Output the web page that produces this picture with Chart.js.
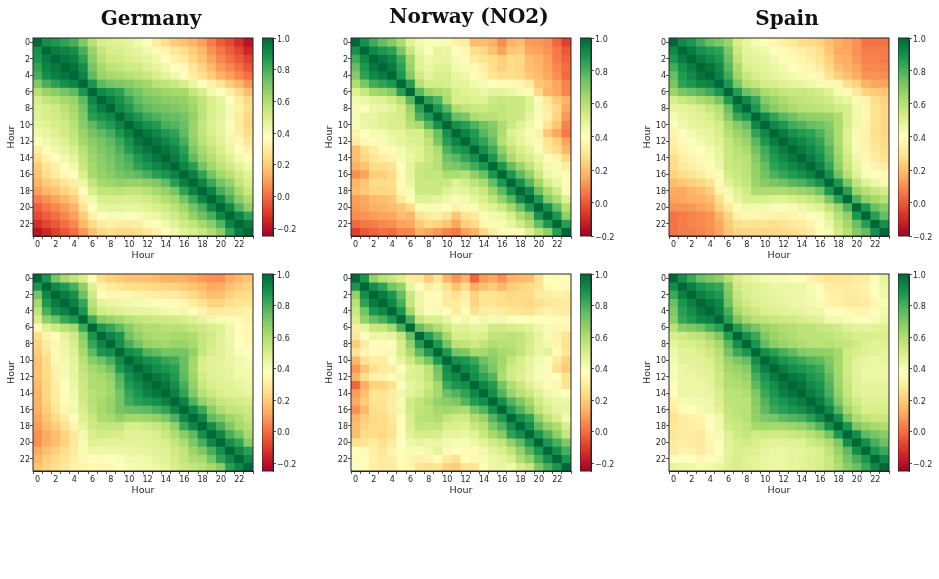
<!DOCTYPE html>
<html>
<head>
<meta charset="utf-8">
<title>Hourly correlation</title>
<script src="https://cdn.jsdelivr.net/npm/chart.js@4"></script>
<style>
	body { margin: 0; background: #fff; width: 939px; height: 579px; overflow: hidden; position: relative; }
	canvas { position: absolute; }
</style>
</head>
<body>
<script>
const hours = ['0','1','2','3','4','5','6','7','8','9','10','11','12','13','14','15','16','17','18','19','20','21','22','23'];
const hourTicks = [0,2,4,6,8,10,12,14,16,18,20,22];
const colorbarTicks = [-0.2,0,0.2,0.4,0.6,0.8,1];
const rdYlGn = ['#a50026','#d73027','#f46d43','#fdae61','#fee08b','#ffffbf','#d9ef8b','#a6d96a','#66bd63','#1a9850','#006837'];

// matrices are symmetric, each row starts on the diagonal
const germanyTop = [
	[1,.9,.88,.84,.8,.7,.58,.5,.48,.47,.45,.42,.38,.3,.25,.2,.18,.14,.1,.03,-.03,-.07,-.13,-.2],
	[1,.95,.93,.9,.8,.65,.55,.5,.5,.47,.45,.42,.36,.33,.28,.25,.2,.15,.07,.02,-.03,-.08,-.15],
	[1,.96,.94,.85,.68,.58,.53,.52,.5,.48,.45,.42,.37,.32,.3,.23,.18,.11,.05,0,-.04,-.09],
	[1,.97,.9,.72,.62,.57,.55,.53,.52,.48,.45,.42,.37,.35,.28,.22,.15,.09,.05,0,-.05],
	[1,.93,.76,.65,.62,.6,.58,.56,.54,.5,.46,.42,.38,.31,.26,.2,.14,.1,.05,0],
	[1,.88,.76,.72,.7,.68,.65,.63,.58,.56,.54,.5,.44,.37,.32,.27,.2,.15,.08],
	[1,.92,.88,.85,.76,.72,.68,.66,.64,.63,.62,.55,.5,.42,.38,.32,.24,.17],
	[1,.95,.89,.83,.76,.72,.7,.68,.67,.66,.62,.56,.5,.45,.38,.3,.23],
	[1,.92,.87,.8,.76,.73,.72,.7,.68,.64,.56,.5,.46,.4,.32,.25],
	[1,.93,.88,.82,.79,.76,.75,.72,.66,.57,.5,.46,.4,.3,.23],
	[1,.94,.89,.86,.8,.78,.74,.65,.55,.49,.45,.38,.3,.23],
	[1,.96,.92,.87,.84,.76,.65,.56,.5,.45,.4,.31,.25],
	[1,.96,.92,.88,.8,.67,.58,.52,.47,.42,.35,.28],
	[1,.96,.92,.85,.7,.62,.55,.5,.44,.38,.32],
	[1,.95,.88,.76,.65,.59,.53,.48,.42,.36],
	[1,.93,.85,.72,.63,.57,.52,.47,.42],
	[1,.94,.84,.72,.63,.58,.52,.47],
	[1,.93,.82,.72,.66,.56,.5],
	[1,.93,.8,.73,.62,.54],
	[1,.92,.8,.68,.6],
	[1,.92,.78,.67],
	[1,.93,.84],
	[1,.95],
	[1]
];
const norwayTop = [
	[1,.9,.82,.76,.7,.62,.5,.44,.42,.42,.42,.35,.33,.2,.2,.17,.1,.18,.2,.13,.12,.1,.03,-.05],
	[1,.92,.88,.85,.72,.56,.46,.41,.47,.46,.4,.37,.28,.26,.21,.14,.22,.23,.15,.14,.11,.06,0],
	[1,.96,.92,.82,.64,.49,.45,.47,.47,.43,.39,.33,.3,.28,.24,.27,.26,.19,.17,.13,.07,.02],
	[1,.95,.85,.66,.5,.46,.5,.5,.44,.42,.38,.34,.28,.24,.27,.26,.2,.18,.14,.09,.04],
	[1,.88,.7,.54,.48,.52,.52,.47,.45,.38,.36,.3,.27,.28,.27,.22,.2,.15,.1,.03],
	[1,.86,.6,.53,.53,.52,.48,.48,.44,.43,.4,.38,.38,.37,.32,.22,.2,.14,.08],
	[1,.78,.66,.63,.6,.52,.5,.48,.46,.48,.48,.46,.43,.38,.27,.18,.15,.08],
	[1,.86,.8,.63,.52,.52,.5,.5,.55,.56,.55,.55,.5,.42,.3,.23,.17],
	[1,.88,.78,.62,.58,.56,.55,.57,.58,.56,.55,.5,.43,.33,.27,.15],
	[1,.9,.75,.72,.62,.6,.6,.57,.56,.55,.48,.42,.34,.25,.12],
	[1,.9,.86,.8,.74,.7,.62,.55,.5,.45,.4,.3,.22,.08],
	[1,.93,.87,.78,.72,.62,.5,.47,.42,.35,.22,.15,.06],
	[1,.9,.84,.76,.6,.53,.48,.44,.38,.3,.24,.14],
	[1,.9,.82,.68,.58,.52,.48,.42,.32,.27,.18],
	[1,.88,.75,.63,.56,.52,.47,.38,.36,.26],
	[1,.88,.76,.66,.58,.5,.44,.42,.33],
	[1,.88,.77,.67,.55,.45,.43,.38],
	[1,.9,.78,.64,.52,.47,.38],
	[1,.92,.75,.62,.54,.42],
	[1,.88,.7,.62,.5],
	[1,.9,.76,.6],
	[1,.88,.68],
	[1,.86],
	[1]
];
const spainTop = [
	[1,.92,.88,.82,.76,.72,.66,.52,.47,.43,.41,.36,.34,.32,.28,.27,.25,.2,.16,.14,.11,.05,.05,.05],
	[1,.95,.9,.87,.85,.72,.55,.48,.46,.45,.41,.38,.36,.34,.32,.28,.22,.15,.15,.11,.07,.07,.07],
	[1,.95,.92,.88,.75,.58,.5,.48,.47,.44,.41,.38,.36,.34,.3,.24,.18,.16,.12,.08,.08,.07],
	[1,.97,.92,.78,.62,.52,.5,.48,.46,.44,.4,.38,.36,.33,.26,.2,.17,.14,.09,.09,.08],
	[1,.94,.82,.65,.56,.52,.5,.48,.46,.44,.42,.39,.37,.3,.24,.2,.16,.11,.11,.1],
	[1,.88,.72,.6,.57,.53,.52,.5,.48,.47,.45,.42,.38,.36,.28,.25,.17,.15,.14],
	[1,.87,.75,.7,.63,.6,.57,.56,.56,.55,.53,.5,.43,.38,.32,.25,.23,.22],
	[1,.92,.83,.7,.66,.62,.59,.58,.57,.56,.54,.5,.47,.42,.35,.28,.25],
	[1,.88,.76,.7,.66,.63,.6,.59,.58,.57,.54,.52,.44,.37,.3,.26],
	[1,.92,.84,.78,.74,.7,.68,.67,.66,.62,.52,.44,.37,.29,.26],
	[1,.92,.88,.82,.8,.76,.74,.7,.62,.52,.44,.36,.3,.26],
	[1,.95,.9,.87,.85,.8,.72,.62,.5,.42,.35,.28,.26],
	[1,.95,.92,.88,.84,.74,.62,.5,.42,.35,.3,.27],
	[1,.96,.92,.87,.78,.64,.52,.42,.36,.32,.28],
	[1,.95,.9,.8,.66,.54,.45,.37,.33,.3],
	[1,.94,.84,.68,.56,.47,.39,.36,.33],
	[1,.9,.74,.6,.5,.42,.4,.38],
	[1,.88,.72,.58,.5,.46,.43],
	[1,.86,.66,.6,.56,.53],
	[1,.8,.68,.64,.6],
	[1,.88,.75,.7],
	[1,.86,.76],
	[1,.9],
	[1]
];
const germanyBottom = [
	[1,.88,.72,.62,.56,.5,.36,.25,.22,.2,.18,.18,.18,.16,.14,.14,.13,.11,.09,.07,.07,.12,.15,.18],
	[1,.92,.87,.8,.67,.48,.33,.3,.28,.25,.25,.24,.23,.23,.22,.2,.18,.16,.12,.13,.17,.2,.22],
	[1,.95,.9,.73,.53,.37,.34,.35,.35,.32,.32,.31,.3,.3,.27,.24,.2,.17,.17,.21,.24,.25],
	[1,.94,.83,.58,.46,.44,.43,.42,.41,.4,.38,.36,.36,.34,.3,.27,.22,.22,.25,.27,.28],
	[1,.88,.62,.52,.5,.48,.46,.45,.45,.44,.42,.41,.42,.38,.33,.29,.29,.3,.31,.33],
	[1,.82,.68,.65,.62,.58,.56,.54,.53,.53,.52,.5,.48,.45,.42,.4,.4,.35,.33],
	[1,.88,.83,.76,.68,.63,.6,.6,.58,.58,.57,.54,.53,.5,.48,.43,.37,.35],
	[1,.93,.88,.73,.66,.62,.61,.6,.62,.62,.6,.55,.52,.47,.43,.36,.34],
	[1,.9,.8,.72,.66,.64,.63,.65,.65,.62,.55,.51,.46,.43,.37,.35],
	[1,.91,.87,.78,.76,.72,.72,.72,.66,.55,.5,.47,.44,.39,.38],
	[1,.94,.9,.87,.83,.81,.74,.63,.5,.47,.46,.44,.42,.4],
	[1,.95,.91,.88,.85,.75,.62,.5,.47,.46,.45,.42,.41],
	[1,.96,.93,.87,.76,.64,.52,.48,.47,.45,.43,.42],
	[1,.96,.9,.8,.66,.54,.5,.48,.47,.45,.43],
	[1,.94,.84,.7,.58,.54,.5,.48,.47,.45],
	[1,.93,.79,.66,.6,.55,.53,.51,.5],
	[1,.92,.82,.68,.6,.56,.55,.53],
	[1,.92,.76,.7,.64,.6,.55],
	[1,.9,.8,.7,.62,.58],
	[1,.92,.8,.72,.62],
	[1,.9,.84,.68],
	[1,.92,.85],
	[1,.92],
	[1]
];
const norwayBottom = [
	[1,.88,.66,.58,.54,.5,.3,.28,.2,.28,.15,.08,.14,-.02,.09,.12,.07,.14,.16,.17,.26,.37,.39,.38],
	[1,.9,.84,.72,.66,.45,.38,.3,.34,.26,.18,.25,.13,.17,.2,.15,.2,.22,.24,.27,.35,.37,.36],
	[1,.95,.88,.75,.54,.44,.37,.36,.3,.26,.32,.22,.27,.27,.25,.23,.24,.24,.3,.31,.32,.31],
	[1,.92,.8,.55,.43,.36,.35,.3,.3,.33,.22,.27,.27,.26,.24,.24,.23,.25,.28,.3,.29],
	[1,.88,.62,.45,.38,.4,.37,.3,.36,.26,.3,.31,.3,.28,.27,.26,.3,.33,.31,.3],
	[1,.8,.55,.5,.5,.45,.38,.42,.38,.42,.4,.42,.39,.37,.37,.37,.38,.36,.36],
	[1,.75,.66,.6,.53,.47,.48,.45,.46,.52,.52,.5,.49,.47,.43,.4,.34,.34],
	[1,.86,.76,.62,.5,.5,.48,.5,.56,.56,.57,.56,.51,.45,.4,.32,.27],
	[1,.87,.72,.57,.56,.53,.56,.6,.58,.58,.55,.51,.44,.42,.33,.26],
	[1,.87,.72,.7,.62,.62,.66,.62,.6,.56,.5,.44,.46,.36,.28],
	[1,.9,.88,.82,.74,.68,.63,.55,.5,.45,.42,.36,.29,.22],
	[1,.92,.88,.78,.7,.62,.52,.5,.45,.4,.38,.26,.2],
	[1,.9,.84,.78,.6,.52,.48,.44,.4,.36,.37,.27],
	[1,.92,.86,.72,.6,.54,.47,.43,.36,.34,.27],
	[1,.9,.78,.65,.58,.54,.47,.42,.4,.37],
	[1,.9,.78,.7,.62,.52,.47,.44,.44],
	[1,.87,.78,.68,.56,.5,.46,.45],
	[1,.9,.84,.66,.56,.5,.42],
	[1,.9,.76,.66,.6,.5],
	[1,.88,.78,.67,.55],
	[1,.88,.8,.7],
	[1,.9,.8],
	[1,.88],
	[1]
];
const spainBottom = [
	[1,.9,.82,.74,.7,.67,.58,.5,.46,.43,.41,.4,.4,.38,.37,.33,.3,.27,.28,.28,.3,.3,.37,.46],
	[1,.94,.88,.85,.83,.68,.52,.49,.47,.46,.44,.44,.44,.44,.41,.36,.3,.3,.3,.31,.33,.38,.44],
	[1,.94,.9,.87,.7,.55,.5,.47,.46,.45,.44,.44,.43,.41,.38,.32,.31,.3,.3,.32,.37,.43],
	[1,.96,.92,.73,.57,.52,.49,.47,.46,.45,.44,.43,.42,.4,.33,.32,.29,.29,.3,.34,.4],
	[1,.94,.8,.62,.56,.53,.49,.48,.47,.46,.45,.43,.43,.37,.37,.35,.34,.33,.38,.42],
	[1,.85,.7,.62,.58,.56,.54,.53,.52,.5,.49,.47,.42,.42,.4,.38,.37,.4,.44],
	[1,.86,.77,.72,.65,.63,.6,.59,.57,.57,.55,.54,.52,.48,.47,.46,.47,.48],
	[1,.9,.82,.7,.65,.62,.6,.58,.57,.57,.56,.54,.53,.5,.5,.5,.5],
	[1,.88,.75,.68,.65,.62,.6,.58,.58,.58,.56,.55,.52,.49,.47,.48],
	[1,.9,.85,.8,.76,.7,.68,.67,.66,.62,.52,.5,.48,.46,.46],
	[1,.94,.88,.85,.82,.78,.76,.7,.63,.53,.47,.45,.44,.45],
	[1,.95,.9,.88,.85,.82,.72,.62,.52,.46,.44,.44,.44],
	[1,.96,.94,.88,.85,.76,.63,.53,.47,.44,.44,.44],
	[1,.97,.92,.88,.78,.64,.54,.47,.45,.45,.45],
	[1,.95,.9,.8,.66,.55,.48,.46,.46,.46],
	[1,.95,.85,.7,.58,.52,.48,.48,.48],
	[1,.92,.78,.63,.55,.5,.5,.5],
	[1,.9,.72,.6,.56,.54,.54],
	[1,.88,.7,.65,.62,.6],
	[1,.9,.76,.72,.68],
	[1,.9,.8,.74],
	[1,.88,.82],
	[1,.92],
	[1]
];

const fontFamily = '"DejaVu Sans"';
const inkColor = '#262626';

function hexToRgb(hex) {
	return [1, 3, 5].map((i) => parseInt(hex.slice(i, i + 2), 16));
}

function cmap(t) {
	const pos = Math.min(Math.max(t, 0), 1) * (rdYlGn.length - 1);
	const i = Math.min(Math.floor(pos), rdYlGn.length - 2);
	const a = hexToRgb(rdYlGn[i]);
	const b = hexToRgb(rdYlGn[i + 1]);
	const c = a.map((v, k) => Math.round(v + (b[k] - v) * (pos - i)));
	return `rgb(${c[0]},${c[1]},${c[2]})`;
}

function cell(rows, r, c) {
	return r <= c ? rows[r][c - r] : rows[c][r - c];
}

function tickFormat(value) {
	return value.toFixed(1).replace('-', '\u2212');
}

// closes the axes box, chart.js only strokes the sides that own a scale
const spines = {
	id: 'spines',
	afterDraw(chart) {
		const { ctx, chartArea: a } = chart;
		ctx.save();
		ctx.strokeStyle = inkColor;
		ctx.lineWidth = 1;
		ctx.strokeRect(a.left, a.top, a.right - a.left, a.bottom - a.top);
		ctx.restore();
	}
};

function addCanvas(left, top, width, height) {
	const el = document.createElement('canvas');
	el.width = width;
	el.height = height;
	el.style.left = left + 'px';
	el.style.top = top + 'px';
	document.body.appendChild(el);
	return el;
}

function axisStyle() {
	return {
		grid: { drawOnChartArea: false, drawTicks: true, tickLength: 3, color: inkColor, tickWidth: 0.8 },
		border: { display: true, color: inkColor }
	};
}

function drawHeatmap(p) {
	const hasTitle = Boolean(p.title);
	const el = addCanvas(p.plotLeft - 33, p.top, 302, p.height);
	const datasets = hours.map((h, r) => ({
		data: hours.map(() => [r - 0.5, r + 0.5]),
		backgroundColor: hours.map((_, c) => cmap((cell(p.rows, r, c) - p.vmin) / (1 - p.vmin)))
	}));

	new Chart(el, {
		type: 'bar',
		data: { labels: hours, datasets },
		options: {
			responsive: false,
			animation: false,
			events: [],
			grouped: false,
			barPercentage: 1,
			categoryPercentage: 1,
			layout: { padding: { top: hasTitle ? 0 : p.padTop, right: 0, left: 0, bottom: 0 } },
			plugins: {
				legend: { display: false },
				tooltip: { enabled: false },
				title: {
					display: hasTitle,
					text: p.title,
					color: '#111',
					font: { family: '"DejaVu Serif"', size: 20, weight: 'bold', lineHeight: 1.2 },
					padding: { top: p.titleTop, bottom: 38 - 24 - p.titleTop }
				}
			},
			scales: {
				x: {
					...axisStyle(),
					offset: true,
					title: { display: true, text: 'Hour', color: inkColor, font: { family: fontFamily, size: 9.5 }, padding: { top: 0, bottom: 3 } },
					ticks: {
						autoSkip: false,
						maxRotation: 0,
						padding: 1,
						color: inkColor,
						font: { family: fontFamily, size: 8 },
						callback: (v, i) => (hourTicks.includes(i) ? hours[i] : '')
					},
					afterFit: (s) => { s.height = 28; }
				},
				y: {
					...axisStyle(),
					min: -0.5,
					max: 23.5,
					reverse: true,
					title: { display: true, text: 'Hour', color: inkColor, font: { family: fontFamily, size: 9.5 }, padding: { top: 6, bottom: 0 } },
					ticks: { padding: 0, labelOffset: 1, color: inkColor, font: { family: fontFamily, size: 8 }, callback: (v) => String(v) },
					afterBuildTicks: (s) => { s.ticks = hourTicks.map((value) => ({ value })); },
					afterFit: (s) => { s.width = 33; }
				},
				// blank strip that keeps the plot clear of the colorbar and leaves the title centred on the whole panel
				gutter: {
					position: 'right',
					grid: { display: false },
					border: { display: false },
					ticks: { display: false },
					afterFit: (s) => { s.width = 302 - 33 - 220; }
				}
			}
		},
		plugins: [spines]
	});
}

function drawColorbar(p) {
	const pad = 7;
	const el = addCanvas(p.plotLeft + 229, p.plotTop - pad, 45, p.plotHeight + pad * 2);

	new Chart(el, {
		type: 'bar',
		data: {
			labels: [''],
			datasets: [{
				data: [[p.vmin, 1]],
				backgroundColor(ctx) {
					const area = ctx.chart.chartArea;
					if (!area) return rdYlGn[5];
					const g = ctx.chart.ctx.createLinearGradient(0, area.bottom, 0, area.top);
					rdYlGn.forEach((color, i) => g.addColorStop(i / (rdYlGn.length - 1), color));
					return g;
				}
			}]
		},
		options: {
			responsive: false,
			animation: false,
			events: [],
			barPercentage: 1,
			categoryPercentage: 1,
			layout: { padding: { top: pad, bottom: pad, left: 0, right: 0 } },
			plugins: { legend: { display: false }, tooltip: { enabled: false } },
			scales: {
				x: { display: false },
				y: {
					...axisStyle(),
					position: 'right',
					min: p.vmin,
					max: 1,
					ticks: { padding: 1, labelOffset: 1.5, color: inkColor, font: { family: fontFamily, size: 8 }, callback: tickFormat },
					afterBuildTicks: (s) => { s.ticks = colorbarTicks.map((value) => ({ value })); },
					afterFit: (s) => { s.width = 34; }
				}
			}
		},
		plugins: [spines]
	});
}

const panels = [
	{ title: 'Germany', rows: germanyTop, vmin: -0.25, plotLeft: 33, top: 0, height: 264, titleTop: 8, plotTop: 38, plotHeight: 198 },
	{ title: 'Norway (NO2)', rows: norwayTop, vmin: -0.2, plotLeft: 351, top: 0, height: 264, titleTop: 6, plotTop: 38, plotHeight: 198 },
	{ title: 'Spain', rows: spainTop, vmin: -0.2, plotLeft: 669, top: 0, height: 264, titleTop: 8, plotTop: 38, plotHeight: 198 },
	{ rows: germanyBottom, vmin: -0.25, plotLeft: 33, top: 262, height: 237, padTop: 12, plotTop: 274, plotHeight: 197 },
	{ rows: norwayBottom, vmin: -0.25, plotLeft: 351, top: 262, height: 237, padTop: 12, plotTop: 274, plotHeight: 197 },
	{ rows: spainBottom, vmin: -0.25, plotLeft: 669, top: 262, height: 237, padTop: 12, plotTop: 274, plotHeight: 197 }
];

panels.forEach((p) => {
	drawHeatmap(p);
	drawColorbar(p);
});
</script>
</body>
</html>
